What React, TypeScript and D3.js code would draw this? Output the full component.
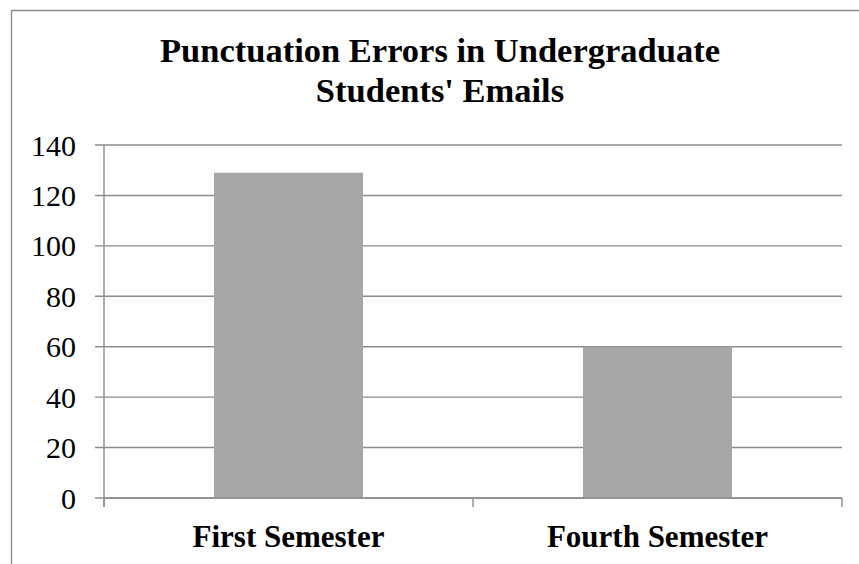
import React from "react";
import * as d3 from "d3";

const categories: string[] = ["First Semester", "Fourth Semester"];
const errorCounts: number[] = [129, 60];
const yTicks: number[] = [0, 20, 40, 60, 80, 100, 120, 140];
const titleLines: string[] = ["Punctuation Errors in Undergraduate", "Students' Emails"];

const W = 859;
const H = 564;
const plot = { left: 104, right: 842, top: 145, bottom: 498 };
const FONT = '"Liberation Serif", "Times New Roman", Times, "DejaVu Serif", serif';
const GRID = "#8c8c8c";
const textStyle: React.CSSProperties = { fontFamily: FONT };

export default function App() {
  const x = d3
    .scaleBand<string>()
    .domain(categories)
    .range([plot.left, plot.right])
    .paddingInner(0.596)
    .paddingOuter(0.298);
  const xCat = d3.scaleBand<string>().domain(categories).range([plot.left, plot.right]);
  const y = d3.scaleLinear().domain([0, 140]).range([plot.bottom, plot.top]);

  const boundaries = [plot.left, ...categories.map((c) => (xCat(c) as number) + xCat.bandwidth())];

  return (
    <svg
      width={W}
      height={H}
      style={{ position: "absolute", left: 0, top: 0, background: "#fff" }}
    >
      <rect x={0} y={0} width={W} height={H} fill="#fff" />
      {/* chart frame */}
      <path d={`M11.5,${H} V10.5 H${W}`} fill="none" stroke="#8a8a8a" strokeWidth={1.3} />

      {/* title */}
      {titleLines.map((t, i) => (
        <text
          key={t}
          x={440}
          y={62 + i * 40}
          textAnchor="middle"
          fontWeight="bold"
          fontSize={34.5}
          fill="#000"
          style={textStyle}
        >
          {t}
        </text>
      ))}

      {/* gridlines and y ticks */}
      {yTicks.map((v) => (
        <g key={v}>
          <line
            x1={plot.left - 9}
            x2={plot.right}
            y1={y(v)}
            y2={y(v)}
            stroke={GRID}
            strokeWidth={1.4}
          />
          <text
            x={76}
            y={y(v)}
            dy="0.35em"
            textAnchor="end"
            fontSize={30}
            fill="#000"
            style={textStyle}
          >
            {v}
          </text>
        </g>
      ))}

      {/* bars */}
      {categories.map((c, i) => (
        <rect
          key={c}
          x={x(c)}
          y={y(errorCounts[i])}
          width={x.bandwidth()}
          height={y(0) - y(errorCounts[i])}
          fill="#a6a6a6"
        />
      ))}

      {/* axes */}
      <line x1={plot.left} x2={plot.left} y1={plot.top} y2={plot.bottom + 9} stroke={GRID} strokeWidth={1.4} />
      <line x1={plot.left} x2={plot.right} y1={plot.bottom} y2={plot.bottom} stroke={GRID} strokeWidth={1.4} />
      {boundaries.map((bx) => (
        <line key={bx} x1={bx} x2={bx} y1={plot.bottom} y2={plot.bottom + 9} stroke={GRID} strokeWidth={1.4} />
      ))}

      {/* category labels */}
      {categories.map((c) => (
        <text
          key={c}
          x={(xCat(c) as number) + xCat.bandwidth() / 2}
          y={547}
          textAnchor="middle"
          fontWeight="bold"
          fontSize={31}
          fill="#000"
          style={textStyle}
        >
          {c}
        </text>
      ))}
    </svg>
  );
}
